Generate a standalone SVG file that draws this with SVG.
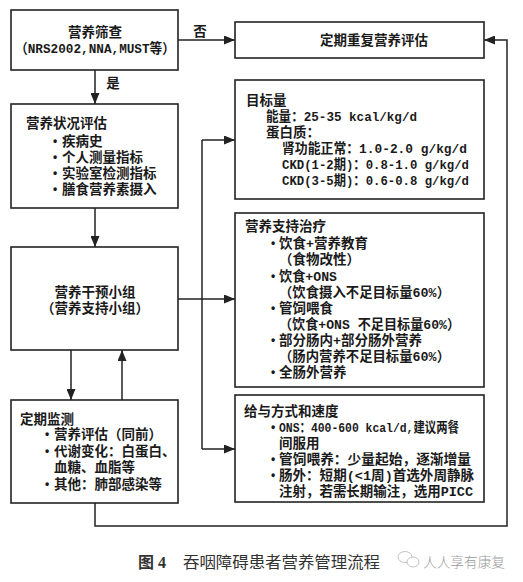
<svg xmlns="http://www.w3.org/2000/svg" width="523" height="582" viewBox="0 0 523 582">
<style>
.box{fill:#fff;stroke:#222;stroke-width:1.6}
.ln{fill:none;stroke:#222;stroke-width:1.5}
.t{font-family:"Liberation Sans","Noto Sans CJK SC",sans-serif;font-size:13.5px;font-weight:700;fill:#1a1a1a}
.mx{font-family:"Liberation Mono","Noto Sans CJK SC",monospace;font-size:13.5px;font-weight:700;fill:#1a1a1a}
.b{font-family:"Liberation Sans",Arial,sans-serif;font-size:12px;font-weight:700;fill:#1a1a1a}
.c{text-anchor:middle}
.cap{font-family:"Liberation Serif","Noto Sans CJK SC",serif;font-size:16px;fill:#333}
.wm{font-family:"Liberation Sans","Noto Sans CJK SC",sans-serif;font-size:14px;fill:#9a9a9a;font-weight:300}
</style>
<defs>
<marker id="ah" markerWidth="11" markerHeight="9" refX="11" refY="4.5" orient="auto" markerUnits="userSpaceOnUse">
<path d="M0,0 L11,4.5 L0,9 z" fill="#222"/>
</marker>
</defs>
<rect width="523" height="582" fill="#fff"/>

<g id="connectors">
<line class="ln" x1="178" y1="40" x2="235" y2="40" marker-end="url(#ah)"/>
<line class="ln" x1="95" y1="70" x2="95" y2="104" marker-end="url(#ah)"/>
<line class="ln" x1="95" y1="208" x2="95" y2="247" marker-end="url(#ah)"/>
<line class="ln" x1="178" y1="299" x2="235" y2="299" marker-end="url(#ah)"/>
<line class="ln" x1="202" y1="140" x2="202" y2="449"/>
<line class="ln" x1="202" y1="140" x2="235" y2="140" marker-end="url(#ah)"/>
<line class="ln" x1="202" y1="449" x2="235" y2="449" marker-end="url(#ah)"/>
<line class="ln" x1="71" y1="350" x2="71" y2="400" marker-end="url(#ah)"/>
<line class="ln" x1="122" y1="400" x2="122" y2="350" marker-end="url(#ah)"/>
<path class="ln" d="M95,503 V526 H507 V40 H484" marker-end="url(#ah)"/>
<text class="t" x="200" y="36" text-anchor="middle" font-size="14">否</text>
<text class="t" x="113" y="88" text-anchor="middle" font-size="14">是</text>
</g>

<g id="screening">
<rect class="box" x="11" y="10" width="167" height="60"/>
<text class="t c" x="95" y="37">营养筛查</text>
<text class="mx c" x="95" y="53" textLength="160" lengthAdjust="spacingAndGlyphs">（NRS2002,NNA,MUST等）</text>
</g>

<g id="reassess">
<rect class="box" x="235" y="22" width="249" height="36"/>
<text class="t c" x="374" y="45">定期重复营养评估</text>
</g>

<g id="status">
<rect class="box" x="11" y="104" width="167" height="104"/>
<text class="t" x="26" y="128">营养状况评估</text>
<text class="b" x="53" y="145">•</text><text class="t" x="62" y="146">疾病史</text>
<text class="b" x="53" y="161">•</text><text class="t" x="62" y="162">个人测量指标</text>
<text class="b" x="53" y="177">•</text><text class="t" x="62" y="178">实验室检测指标</text>
<text class="b" x="53" y="193">•</text><text class="t" x="62" y="194">膳食营养素摄入</text>
</g>

<g id="team">
<rect class="box" x="11" y="247" width="167" height="103"/>
<text class="t c" x="95" y="297">营养干预小组</text>
<text class="t c" x="95" y="313">（营养支持小组）</text>
</g>

<g id="monitor">
<rect class="box" x="11" y="400" width="167" height="103"/>
<text class="t" x="20" y="424">定期监测</text>
<text class="b" x="45" y="438">•</text><text class="t" x="54" y="439">营养评估（同前）</text>
<text class="b" x="45" y="455">•</text><text class="t" x="54" y="456">代谢变化：白蛋白、</text>
<text class="t" x="54" y="472">血糖、血脂等</text>
<text class="b" x="45" y="488">•</text><text class="t" x="54" y="489">其他：肺部感染等</text>
</g>

<g id="target">
<rect class="box" x="235" y="80" width="249" height="119"/>
<text class="t" x="246" y="105">目标量</text>
<text class="mx" x="266" y="121" textLength="151" lengthAdjust="spacingAndGlyphs">能量：25-35 kcal/kg/d</text>
<text class="t" x="266" y="137">蛋白质：</text>
<text class="mx" x="282" y="153" textLength="185" lengthAdjust="spacingAndGlyphs">肾功能正常：1.0-2.0 g/kg/d</text>
<text class="mx" x="282" y="169" textLength="187" lengthAdjust="spacingAndGlyphs">CKD(1-2期)：0.8-1.0 g/kg/d</text>
<text class="mx" x="282" y="185" textLength="187" lengthAdjust="spacingAndGlyphs">CKD(3-5期)：0.6-0.8 g/kg/d</text>
</g>

<g id="support">
<rect class="box" x="235" y="213" width="249" height="174"/>
<text class="t" x="245" y="231">营养支持治疗</text>
<text class="b" x="271" y="247">•</text><text class="t" x="279" y="248">饮食+营养教育</text>
<text class="t" x="279" y="264">（食物改性）</text>
<text class="b" x="271" y="280">•</text><text class="mx" x="279" y="281" textLength="58" lengthAdjust="spacingAndGlyphs">饮食+ONS</text>
<text class="mx" x="279" y="297" textLength="171" lengthAdjust="spacingAndGlyphs">（饮食摄入不足目标量60%）</text>
<text class="b" x="271" y="312">•</text><text class="t" x="279" y="313">管饲喂食</text>
<text class="mx" x="279" y="329" textLength="181" lengthAdjust="spacingAndGlyphs">（饮食+ONS 不足目标量60%）</text>
<text class="b" x="271" y="344">•</text><text class="t" x="279" y="345">部分肠内+部分肠外营养</text>
<text class="mx" x="279" y="361" textLength="171" lengthAdjust="spacingAndGlyphs">（肠内营养不足目标量60%）</text>
<text class="b" x="271" y="376">•</text><text class="t" x="279" y="377">全肠外营养</text>
</g>

<g id="delivery">
<rect class="box" x="235" y="395" width="249" height="107"/>
<text class="t" x="244" y="416">给与方式和速度</text>
<text class="b" x="271" y="431">•</text><text class="mx" x="279" y="432" textLength="180" lengthAdjust="spacingAndGlyphs">ONS：400-600 kcal/d,建议两餐</text>
<text class="t" x="279" y="448">间服用</text>
<text class="b" x="271" y="463">•</text><text class="t" x="279" y="464" textLength="192" lengthAdjust="spacingAndGlyphs">管饲喂养：少量起始，逐渐增量</text>
<text class="b" x="271" y="479">•</text><text class="mx" x="279" y="480" textLength="195" lengthAdjust="spacingAndGlyphs">肠外：短期(&lt;1周)首选外周静脉</text>
<text class="mx" x="279" y="496" textLength="194" lengthAdjust="spacingAndGlyphs">注射，若需长期输注，选用PICC</text>
</g>

<g id="caption">
<text class="cap" x="138" y="568" font-weight="700" font-size="15">图 4</text>
<text class="cap" x="183" y="568" textLength="197" lengthAdjust="spacingAndGlyphs">吞咽障碍患者营养管理流程</text>
</g>

<g id="watermark">
<ellipse cx="405" cy="557" rx="7" ry="5.5" fill="none" stroke="#bbb" stroke-width="0.9"/>
<ellipse cx="413" cy="562" rx="6" ry="5" fill="#fff" stroke="#bbb" stroke-width="0.9"/>
<text class="wm" x="423" y="567" textLength="82" lengthAdjust="spacingAndGlyphs">人人享有康复</text>
</g>
</svg>
